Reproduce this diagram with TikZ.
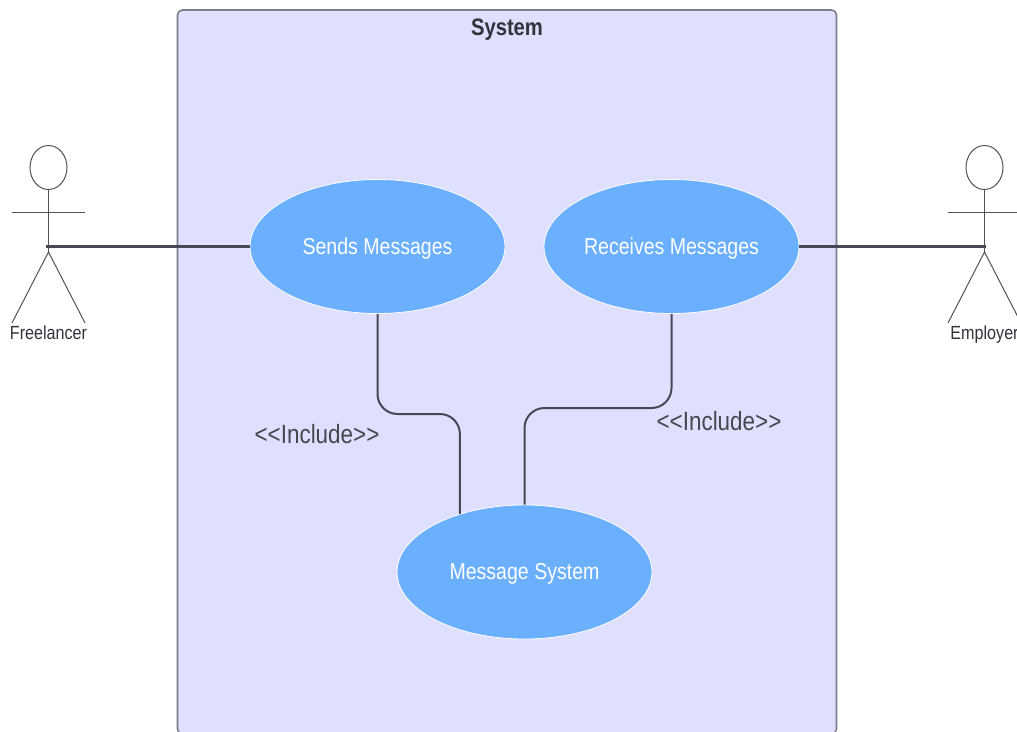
\documentclass[tikz,border=0pt]{standalone}
\usepackage{fontspec}
\setmainfont{Liberation Sans}[FakeStretch=0.85,Ligatures=NoCommon]
\usetikzlibrary{shapes.geometric}
\definecolor{boxfill}{RGB}{223, 223, 255}
\definecolor{boxline}{RGB}{125, 125, 140}
\definecolor{caseblue}{RGB}{107, 175, 255}
\definecolor{darkline}{RGB}{70, 72, 85}
\definecolor{darktext}{RGB}{51, 51, 60}
\tikzset{
    usecase/.style={ellipse, fill=caseblue, draw=white, line width=0.8pt, minimum width=255pt, minimum height=134pt, inner sep=0pt, text=white, text depth=1.5pt, font=\fontsize{23}{26}\selectfont},
    actorhead/.style={ellipse, draw=darktext!85, line width=1pt, minimum width=37pt, minimum height=44pt, inner sep=0pt},
    actorline/.style={draw=darktext!85, line width=1pt},
    actorname/.style={text=darktext, anchor=base, inner sep=0pt, font=\fontsize{19}{21}\selectfont},
    link/.style={draw=darkline, line width=2.2pt},
    includeline/.style={draw=darkline, line width=2pt, rounded corners=20pt},
    inclabel/.style={text=darktext!90, inner sep=0pt, font=\fontsize{26.4}{30}\selectfont}
}

\begin{document}
\begin{tikzpicture}[x=1pt, y=-1pt]
    \clip (0,0) rectangle (1017,731);

    % system frame
    \draw[fill=boxfill, draw=boxline, line width=1.6pt, rounded corners=5pt] (177.5,10) rectangle (836.5,734);
    \node[inner sep=0pt, text=darktext, font=\fontsize{23.8}{27}\selectfont\bfseries] (systemtitle) at (507,30) {System};

    % actors
    \foreach \name/\lab/\xpos/\handx in {freelancer/Freelancer/48.5/46, employer/Employer/984.5/985.5} {
        \node[actorhead] (\name head) at (\xpos,167.5) {};
        \coordinate (\name hip) at (\xpos,252);
        \coordinate (\name hand) at (\handx,246.5);
        \coordinate (\name arml) at (\xpos-36.5,212);
        \coordinate (\name armr) at (\xpos+36.5,212);
        \coordinate (\name legl) at (\xpos-36.5,323);
        \coordinate (\name legr) at (\xpos+36.5,323);
        \draw[actorline] (\name head.south) -- (\name hip);
        \draw[actorline] (\name arml) -- (\name armr);
        \draw[actorline] (\name legl) -- (\name hip) -- (\name legr);
        \node[actorname] (\name) at (\xpos,339.5) {\lab};
    }

    % use cases
    \node[usecase] (sends) at (377.5,246.5) {Sends Messages};
    \node[usecase] (receives) at (671.5,246.5) {Receives Messages};
    \node[usecase] (msgsystem) at (524.5,572) {Message System};

    % connectors
    \draw[link] (freelancerhand) -- (sends.west);
    \draw[link] (receives.east) -- (employerhand);
    \coordinate (leftmid) at (420,414);
    \coordinate (rightmid) at (600,408);
    \draw[includeline] (sends.south) |- (leftmid) -| (msgsystem.138);
    \draw[includeline] (receives.south) |- (rightmid) -| (msgsystem.north);

    % labels
    \node[inclabel] (leftinclude) at (317,434) {<{}<Include>{}>};
    \node[inclabel] (rightinclude) at (719,421) {<{}<Include>{}>};
\end{tikzpicture}
\end{document}
